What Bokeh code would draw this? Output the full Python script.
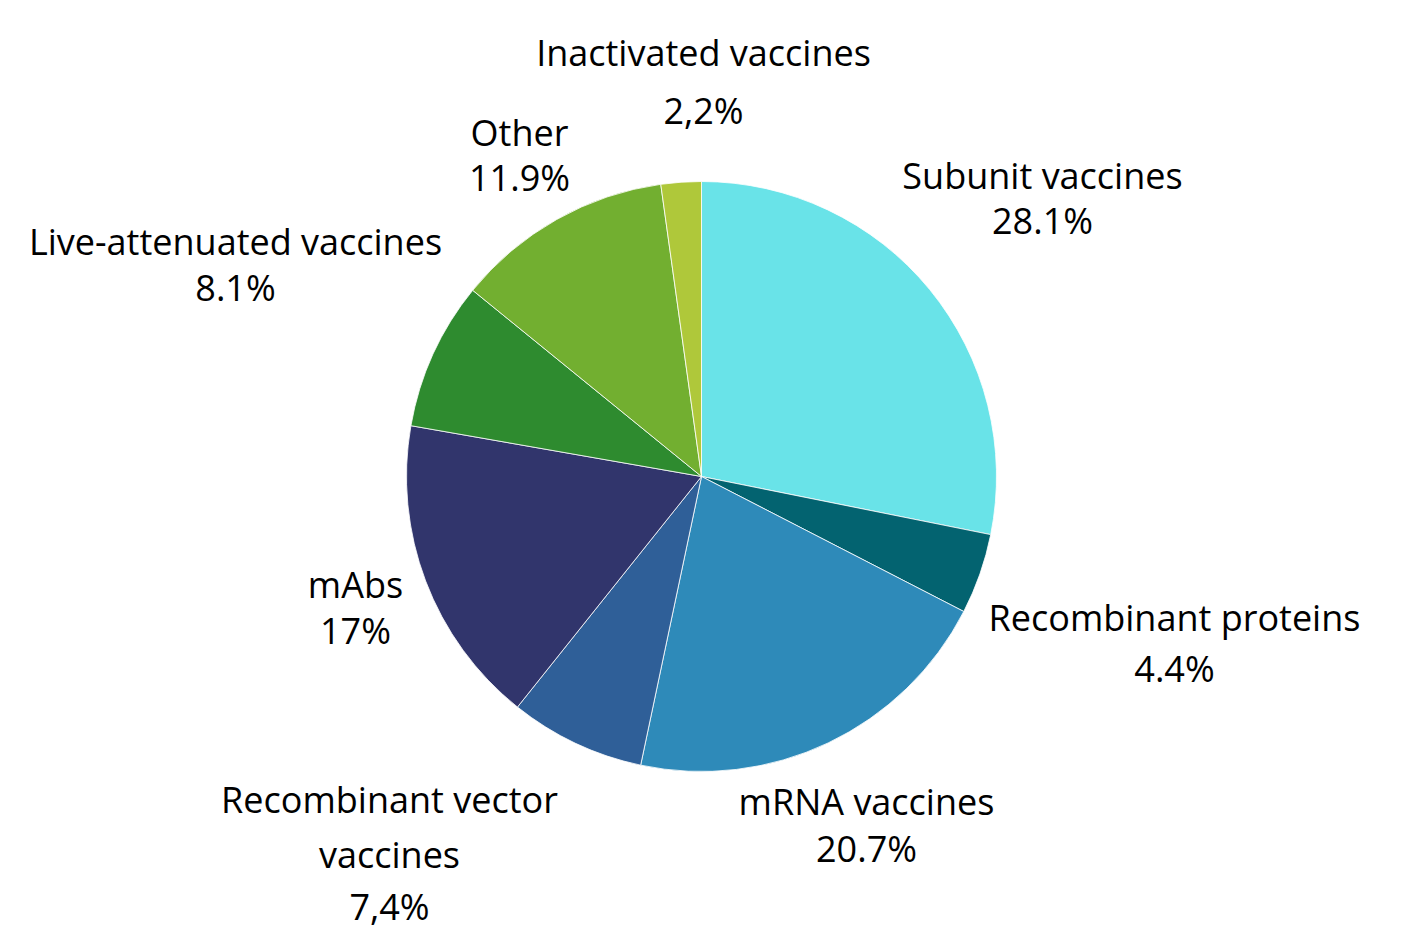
import math
from bokeh.plotting import figure
from bokeh.models import Range1d, ColumnDataSource
from bokeh.core.properties import value
from bokeh.embed import file_html
from bokeh.resources import INLINE

categories = ["Subunit vaccines", "Recombinant proteins", "mRNA vaccines",
              "Recombinant vector vaccines", "mAbs", "Live-attenuated vaccines",
              "Other", "Inactivated vaccines"]
shares = [28.1, 4.4, 20.7, 7.4, 17.0, 8.1, 11.9, 2.2]
pct_labels = ["28.1%", "4.4%", "20.7%", "7,4%", "17%", "8.1%", "11.9%", "2,2%"]
colors = ["#69E3E8", "#036370", "#2E8AB9", "#2F5F98", "#31356C", "#2E8B2F", "#72AF30", "#AFC83A"]

# label lines (name split where the reference wraps)
label_lines = [["Subunit vaccines"], ["Recombinant proteins"], ["mRNA vaccines"],
               ["Recombinant vector", "vaccines"], ["mAbs"], ["Live-attenuated vaccines"],
               ["Other"], ["Inactivated vaccines"]]

# layout (picture pixel coordinates)
CX, CY, R = 701, 476, 295
label_pos = [  # (x center, [y of each line])
    (1042, [175, 220]),
    (1174, [617, 668]),
    (866, [801, 848]),
    (389, [799, 854, 906]),
    (355, [584, 630]),
    (235, [241, 287]),
    (519, [132, 177]),
    (703, [52, 110]),
]

W, H = 1396, 933
p = figure(width=W, height=H, output_backend="svg", toolbar_location=None,
           x_range=Range1d(0, W), y_range=Range1d(-H, 0),
           min_border=0, outline_line_color=None, background_fill_color="white")
p.axis.visible = False
p.grid.visible = False

total = sum(shares)
starts, ends = [], []
cum = 0.0
for s in shares:
    a0 = cum / total
    cum += s
    a1 = cum / total
    # clockwise from 12 o'clock
    starts.append(math.pi / 2 - a1 * 2 * math.pi)
    ends.append(math.pi / 2 - a0 * 2 * math.pi)

src = ColumnDataSource(dict(start=starts, end=ends, color=colors, cat=categories))
p.wedge(x=CX, y=-CY, radius=R, start_angle="start", end_angle="end",
        fill_color="color", line_color="white", line_width=0.8, source=src)

tx, ty, tt = [], [], []
for i, (lx, ys) in enumerate(label_pos):
    lines = label_lines[i] + [pct_labels[i]]
    for line, yy in zip(lines, ys):
        tx.append(lx)
        ty.append(-yy)
        tt.append(line)

p.text(x=tx, y=ty, text=tt, text_font=value("Open Sans"), text_font_size="36px",
       text_align="center", text_baseline="middle", text_color="#000000")

open("out.html", "w").write(file_html(p, INLINE))
